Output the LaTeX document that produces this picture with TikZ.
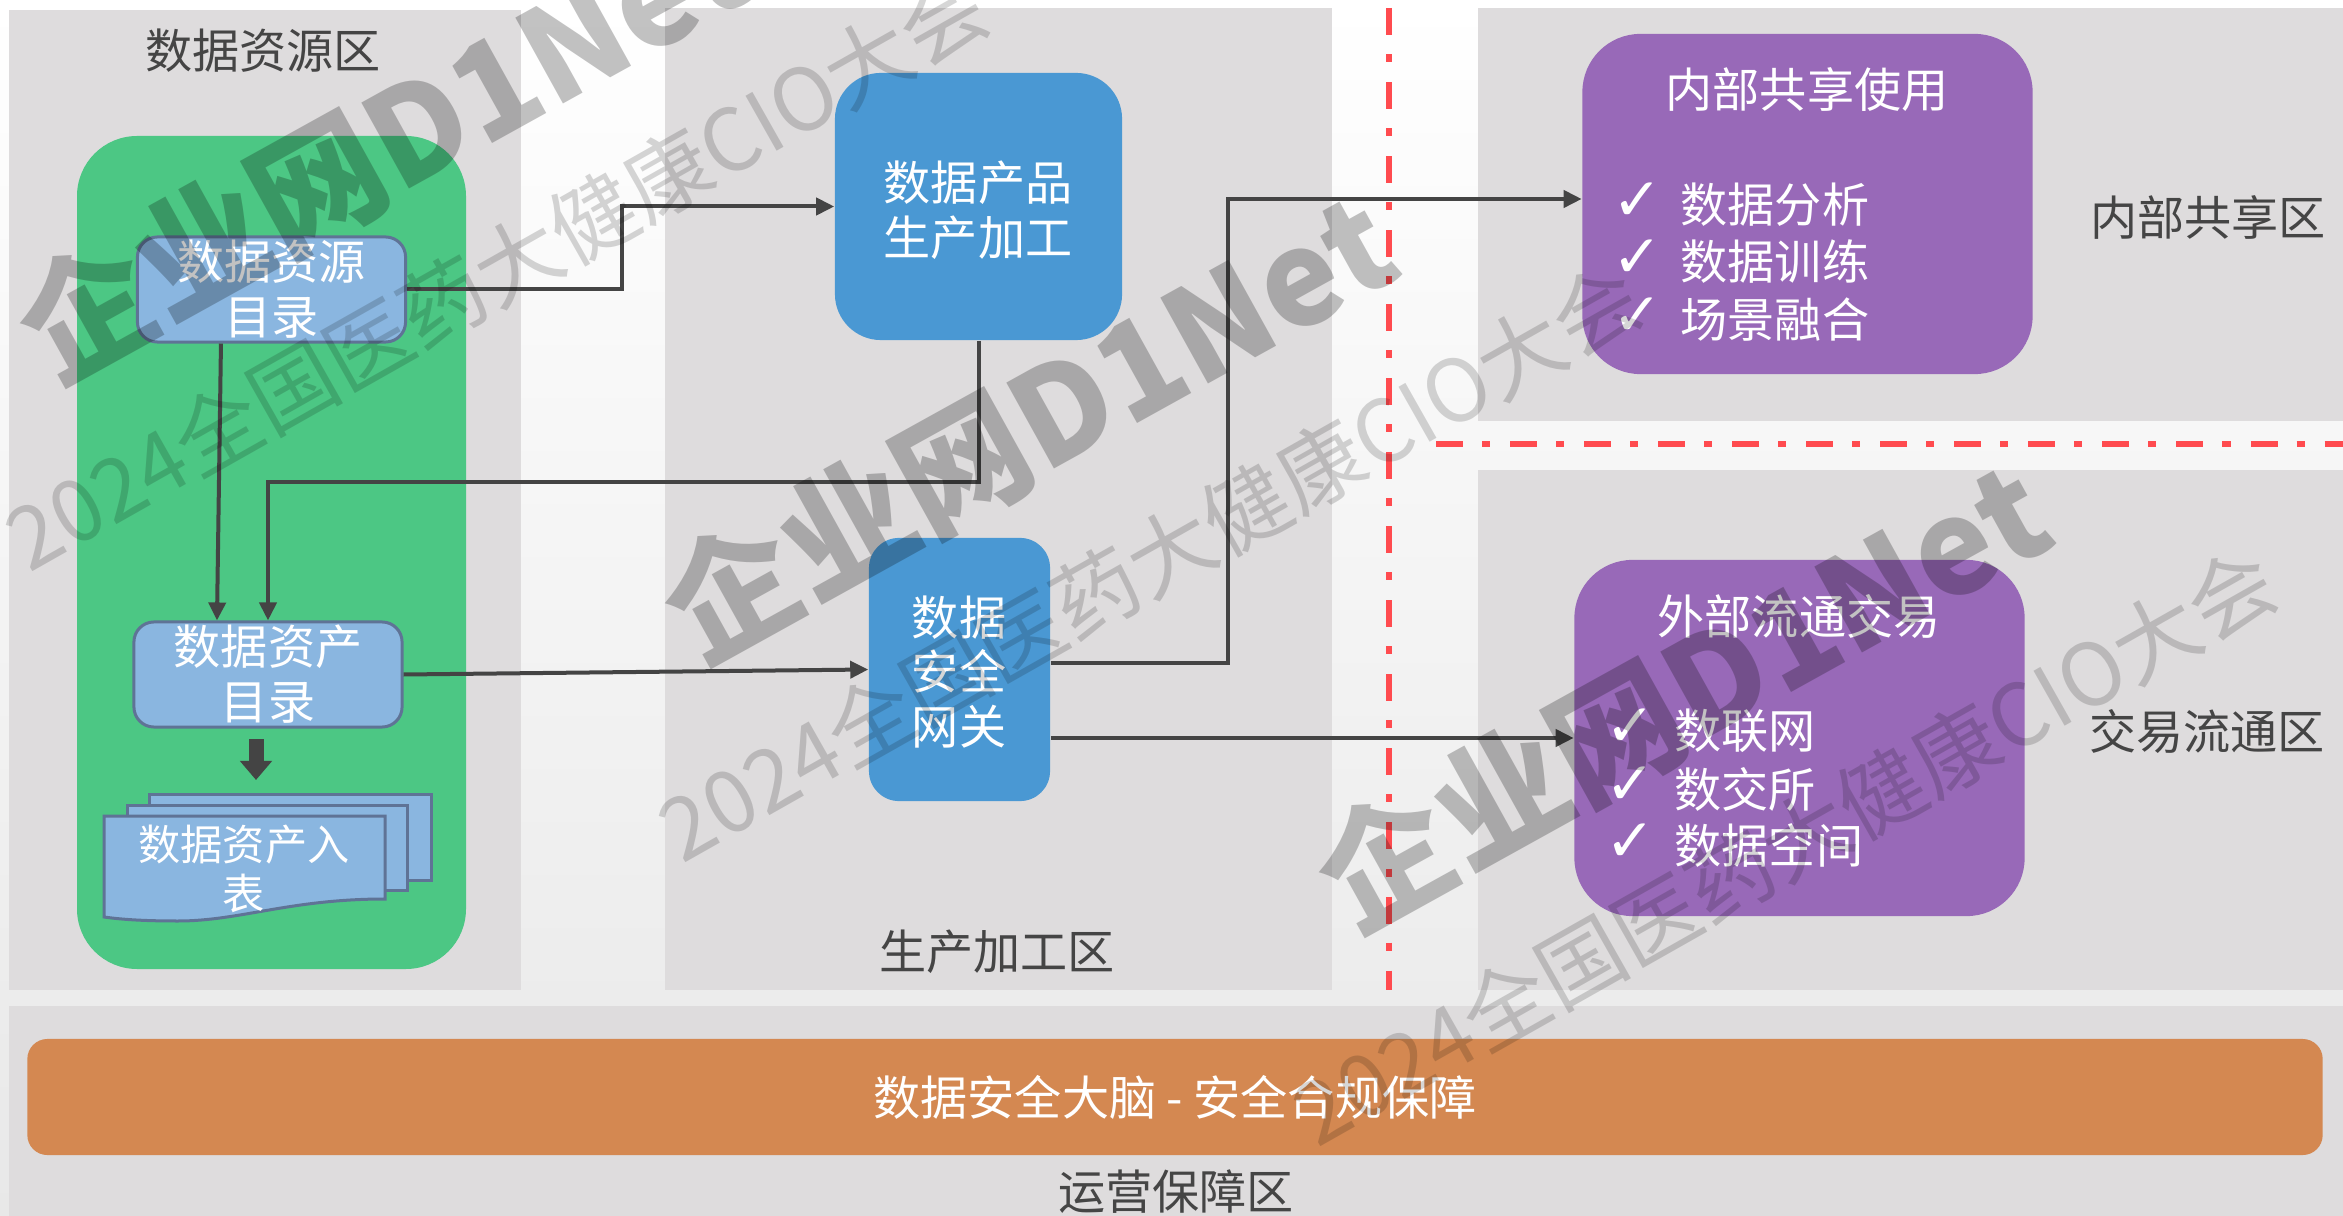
\documentclass[tikz,border=0pt]{standalone}
\usepackage{fontspec}
\setmainfont{Noto Sans CJK SC}
\newfontfamily\checkfont{DejaVu Sans}
\usetikzlibrary{positioning,calc,arrows.meta}

\definecolor{panelgray}{HTML}{DEDCDD}
\definecolor{labelgray}{HTML}{454545}
\definecolor{greenzone}{HTML}{4CC784}
\definecolor{catblue}{HTML}{8AB6E0}
\definecolor{catedge}{HTML}{5F7396}
\definecolor{procblue}{HTML}{4A98D3}
\definecolor{sharepurple}{HTML}{9869B8}
\definecolor{safeorange}{HTML}{D48851}
\definecolor{borderred}{HTML}{FF4B4F}
\definecolor{flowgray}{HTML}{444444}

\tikzset{
    zonelabel/.style={text=labelgray, font=\fontsize{13.4}{15.6}\selectfont},
    whitetext/.style={text=white, align=center, font=\fontsize{13.4}{15.6}\selectfont},
    catbox/.style={draw=catedge, line width=.03cm, fill=catblue, rounded corners=.2cm, minimum width=2.68cm, minimum height=1.05cm, inner sep=0pt, whitetext},
    procbox/.style={fill=procblue, inner sep=0pt, whitetext},
    sharebox/.style={fill=sharepurple, rounded corners=.58cm, minimum width=4.5cm, inner sep=0pt},
    itemtext/.style={whitetext, anchor=west, inner sep=0pt},
    tickmark/.style={text=white, inner sep=0pt, font=\checkfont\bfseries\fontsize{17}{20}\selectfont},
    docpage/.style={draw=catedge, line width=.03cm, fill=catblue},
    flow/.style={draw=flowgray, line width=.04cm, -{Triangle[length=.18cm,width=.17cm]}},
    redline/.style={draw=borderred, line width=.065cm, dash pattern=on .27cm off .19cm on .08cm off .2cm},
    logomark/.style={text=black, text opacity=.24, rotate=29, inner sep=0pt, font=\bfseries\fontsize{37.5}{42}\selectfont},
    eventmark/.style={text=black, text opacity=.16, rotate=29.5, inner sep=0pt, font=\fontsize{24.5}{28}\selectfont},
}

\begin{document}
\begin{tikzpicture}[x=.01cm, y=-.01cm]
    \useasboundingbox (0,0) rectangle (2343,1216);

    % Page background
    \shade[top color=white, bottom color=black!9] (0,0) rectangle (2343,1216);

    % Zones
    \fill[panelgray] (9,10) rectangle (521,990);
    \fill[panelgray] (665,8) rectangle (1332,990);
    \fill[panelgray] (1478,8) rectangle (2343,421);
    \fill[panelgray] (1478,470) rectangle (2343,990);
    \fill[panelgray] (9,1006) rectangle (2343,1216);

    % Zone borders
    \draw[redline] (1389,8) -- (1389,990);
    \draw[redline] (1436,444) -- (2343,444);

    % Zone labels
    \node[zonelabel] (srclabel) at (263,51) {数据资源区};
    \node[zonelabel] (prodlabel) at (997,952) {生产加工区};
    \node[zonelabel] (sharelabel) at (2208,217) {内部共享区};
    \node[zonelabel] (tradelabel) at (2207,731) {交易流通区};
    \node[zonelabel] (opslabel) at (1176,1192) {运营保障区};

    % Data source area
    \fill[greenzone, rounded corners=.6cm] (77,136) rectangle (466,969);
    \node[catbox] (srccat) at (271.5,289.5) {数据资源\\目录};
    \node[catbox] (assetcat) at (268,674.5) {数据资产\\目录};

    % Balance sheet pages
    \draw[docpage] (149,794) rectangle (431,880);
    \draw[docpage] (127,805) rectangle (407,890);
    \draw[docpage] (104,816) -- (385,816) -- (385,899)
        .. controls (290,899) and (240,921) .. (178,921)
        .. controls (150,921) and (125,920) .. (104,917) -- cycle;
    \node[whitetext, font=\fontsize{12}{13.9}\selectfont] (doctext) at (244,869) {数据资产入\\表};

    % Production area
    \node[procbox, rounded corners=.46cm, minimum width=2.87cm, minimum height=2.67cm] (prod) at (978.5,206.5) {};
    \node[whitetext] (prodtext) at (978,210) {数据产品\\生产加工};
    \node[procbox, rounded corners=.3cm, minimum width=1.81cm, minimum height=2.63cm] (gate) at (959.5,669.5) {};
    \node[whitetext] (gatetext) at (959,672) {数据\\安全\\网关};

    % Internal sharing
    \node[sharebox, minimum height=3.4cm] (share) at (1807.5,204) {};
    \node[whitetext] (sharetitle) at (1807,90) {内部共享使用};
    \node[itemtext] (shareone) at (1680,205) {数据分析};
    \node[itemtext] (sharetwo) at (1680,262) {数据训练};
    \node[itemtext] (sharethree) at (1680,320) {场景融合};
    \node[tickmark] (tickone) at (1638,202) {✓};
    \node[tickmark] (ticktwo) at (1638,259) {✓};
    \node[tickmark] (tickthree) at (1638,317) {✓};

    % External trading
    \node[sharebox, minimum height=3.56cm] (trade) at (1799.5,738) {};
    \node[whitetext] (tradetitle) at (1799,616) {外部流通交易};
    \node[itemtext] (tradeone) at (1674,731) {数联网};
    \node[itemtext] (tradetwo) at (1674,789) {数交所};
    \node[itemtext] (tradethree) at (1674,846) {数据空间};
    \node[tickmark] (tickfour) at (1631,728) {✓};
    \node[tickmark] (tickfive) at (1631,786) {✓};
    \node[tickmark] (ticksix) at (1631,843) {✓};

    % Security brain
    \node[fill=safeorange, rounded corners=.2cm, minimum width=22.94cm, minimum height=1.16cm, inner sep=0pt, whitetext] (brain) at (1175,1097) {数据安全大脑 - 安全合规保障};

    % Connectors
    \draw[flow] (srccat.east) -- ++(215,0) |- (prod.west);
    \draw[flow] ([xshift=-.505cm]srccat.south) -- ([xshift=-.51cm]assetcat.north);
    \draw[flow] (prod.south) -- ++(0,141) -| (assetcat.north);
    \draw[flow] (assetcat.east) -- (gate.west);
    \draw[flow] ([yshift=.065cm]gate.east) -- ++(177,0) |- ([yshift=.05cm]share.west);
    \draw[flow] (gate.east |- trade.west) -- (trade.west);

    % Block arrow down to the pages
    \coordinate (blockfrom) at (256,739);
    \coordinate (blockto) at (256,780);
    \draw[draw=flowgray, line width=.15cm, -{Triangle[length=.19cm,width=.31cm]}] (blockfrom) -- (blockto);

    % Watermarks
    \node[logomark] (logoa) at (382,146) {企业网D1Net};
    \node[logomark] (logob) at (1027,426) {企业网D1Net};
    \node[logomark] (logoc) at (1681,695) {企业网D1Net};
    \node[eventmark] (eventa) at (497,271) {2024全国医药大健康CIO大会};
    \node[eventmark] (eventb) at (1150,562) {2024全国医药大健康CIO大会};
    \node[eventmark] (eventc) at (1785,846) {2024全国医药大健康CIO大会};
\end{tikzpicture}
\end{document}
